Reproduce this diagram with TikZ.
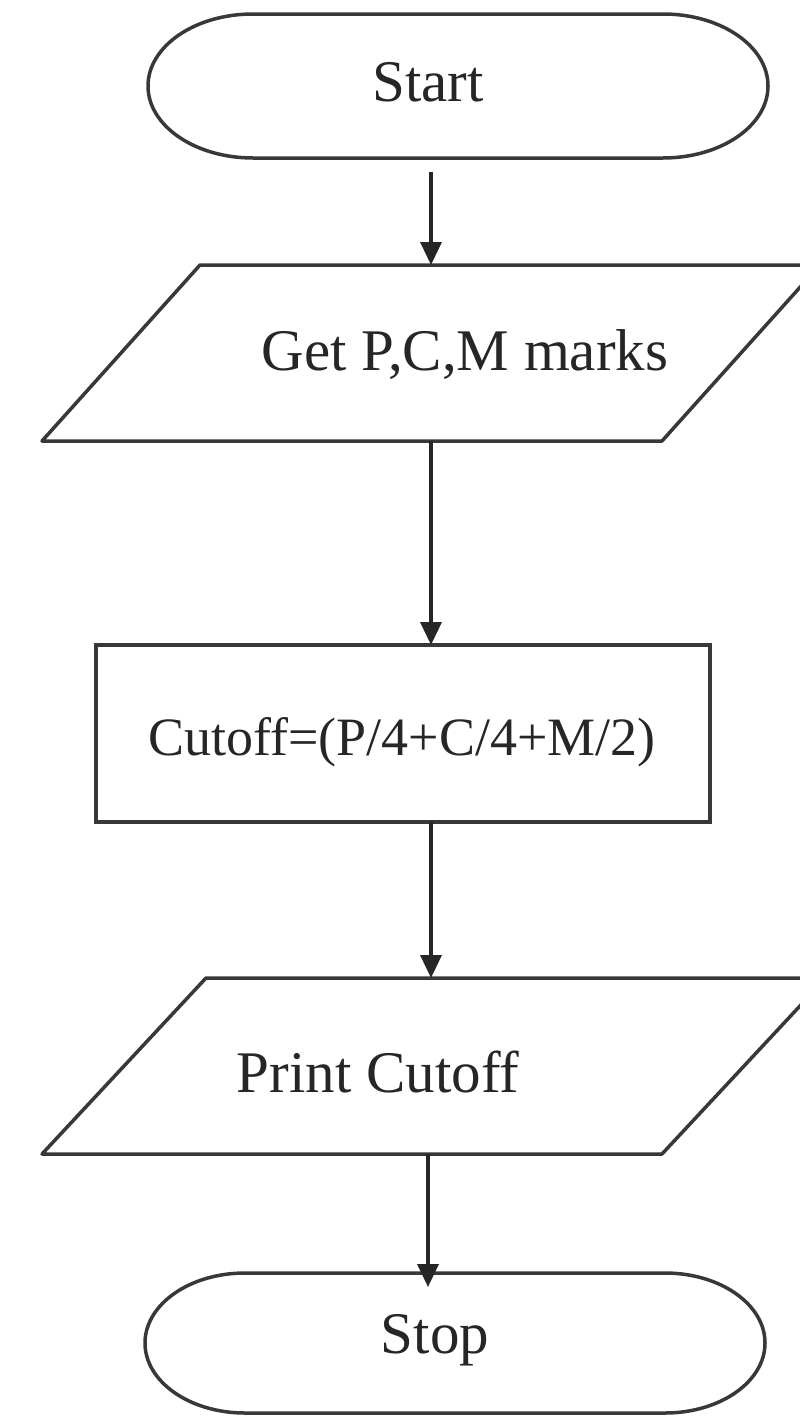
\documentclass[tikz,border=0pt]{standalone}
\usepackage{fontspec}
\setmainfont{Liberation Serif}
\usetikzlibrary{arrows.meta,calc}
\begin{document}
\begin{tikzpicture}[x=1pt,y=1pt,
  outline/.style={draw=black!78, line width=3.5pt, line join=round},
  flow/.style={draw=black!85, line width=3.5pt, -{Triangle[length=23pt,width=21pt]}},
  txt/.style={font=\fontsize{59}{63}\selectfont, inner sep=0pt, text=black!85},
  smalltxt/.style={font=\fontsize{54}{58}\selectfont, inner sep=0pt, text=black!85},
  holder/.style={inner sep=0pt, outer sep=0pt}
]
\useasboundingbox (0,0) rectangle (800,-1416);
\fill[white] (0,0) rectangle (800,-1416);
\clip (0,0) rectangle (800,-1416);

% Start terminator
\node[holder, minimum width=620pt, minimum height=144pt] (start) at (458,-86) {};
\draw[outline] ([xshift=105pt]start.north west) -- ([xshift=-105pt]start.north east)
  arc[start angle=90, end angle=-90, x radius=105pt, y radius=72pt]
  -- ([xshift=105pt]start.south west)
  arc[start angle=270, end angle=90, x radius=105pt, y radius=72pt] -- cycle;
\node[txt] (starttext) at (428,-82) {Start};

% Input parallelogram
\node[holder, minimum width=620pt, minimum height=176pt] (input) at (431,-353) {};
\draw[outline] ([xshift=-79pt]input.south west) -- ([xshift=79pt]input.north west)
  -- ([xshift=79pt]input.north east) -- ([xshift=-79pt]input.south east) -- cycle;
\node[txt] (inputtext) at (465,-355) {Get P,C,M marks};

% Process box
\node[holder, draw=black!78, line width=3.5pt, minimum width=614pt, minimum height=177pt] (proc) at (403,-733.5) {};
\node[smalltxt] (proctext) at (402,-742) {Cutoff=(P/4+C/4+M/2)};

% Output parallelogram
\node[holder, minimum width=620pt, minimum height=176pt] (output) at (434,-1066) {};
\draw[outline] ([xshift=-82pt]output.south west) -- ([xshift=82pt]output.north west)
  -- ([xshift=82pt]output.north east) -- ([xshift=-82pt]output.south east) -- cycle;
\node[txt] (outputtext) at (378,-1072) {Print Cutoff};

% Stop terminator
\node[holder, minimum width=620pt, minimum height=140pt] (stop) at (455,-1343) {};
\draw[outline] ([xshift=100pt]stop.north west) -- ([xshift=-100pt]stop.north east)
  arc[start angle=90, end angle=-90, x radius=100pt, y radius=70pt]
  -- ([xshift=100pt]stop.south west)
  arc[start angle=270, end angle=90, x radius=100pt, y radius=70pt] -- cycle;
\node[txt] (stoptext) at (435,-1340) {Stop};

% Connectors
\coordinate (a1) at ($(start.south -| input.north)+(0,-14)$);
\coordinate (a4) at ($(stop.north -| output.south)+(-6,-14)$);
\draw[flow] (a1) -- (input.north);
\draw[flow] (input.south) -- (input.south |- proc.north);
\draw[flow] (proc.south -| input.south) -- (input.south |- output.north);
\draw[flow] ([xshift=-6pt]output.south) -- (a4);
\end{tikzpicture}
\end{document}
